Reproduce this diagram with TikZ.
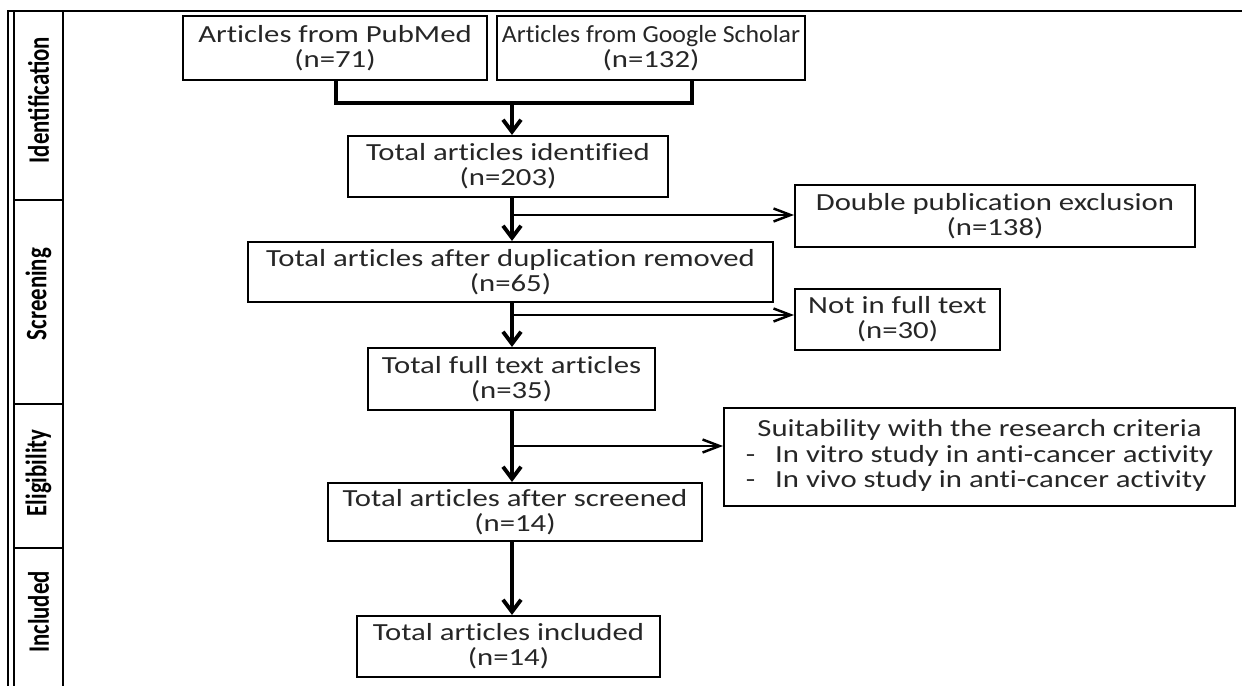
\documentclass[tikz,border=0pt]{standalone}
\usepackage{fontspec}
\setmainfont{Carlito}[FakeStretch=1.25, Ligatures=NoCommon]
\newfontfamily\stagefont{Carlito}
\usetikzlibrary{arrows.meta}
\tikzset{
  box/.style={draw, line width=1.2pt, inner sep=0pt, align=center,
    font=\fontsize{14pt}{14.4pt}\selectfont, text=black!85},
  arr/.style={line width=2.2pt, -{Straight Barb[length=2.4mm,width=3.6mm]}},
  side/.style={line width=1.4pt, -{Straight Barb[length=3.4mm,width=2.6mm]}},
  stage/.style={rotate=90, font=\stagefont\bfseries\fontsize{13pt}{13pt}\selectfont},
  frame/.style={line width=1.4pt}
}
\begin{document}
\begin{tikzpicture}[x=0.02cm,y=-0.02cm]
  \useasboundingbox (0,0) rectangle (1242,686);
  % frame and stage column
  \draw[frame] (1242,11) -- (8,11) -- (8,686);
  \draw[line width=0.9pt] (14,11) -- (14,686);
  \draw[line width=0.9pt] (63,11) -- (63,686);
  \draw[line width=0.9pt] (14,200) -- (63,200);
  \draw[line width=0.9pt] (14,404) -- (63,404);
  \draw[line width=0.9pt] (14,548) -- (63,548);
  \node[stage] (sid) at (38.5,100) {\scalebox{1}[1.3]{Identification}};
  \node[stage] (sscr) at (38.5,294) {\scalebox{1}[1.3]{Screening}};
  \node[stage] (selig) at (38.5,473) {\scalebox{1}[1.3]{Eligibility}};
  \node[stage] (sincl) at (38.5,612) {\scalebox{1}[1.3]{Included}};

  % boxes
  \node[box, minimum width=6.08cm, minimum height=1.28cm] (pubmed) at (335,48)
    {Articles from PubMed\\(n=71)};
  \node[box, minimum width=6.16cm, minimum height=1.28cm] (scholar) at (651,48)
    {\scalebox{0.84}[1]{Articles from Google Scholar}\\(n=132)};
  \node[box, minimum width=6.4cm, minimum height=1.22cm] (ident) at (508,166.5)
    {Total articles identified\\(n=203)};
  \node[box, minimum width=8cm, minimum height=1.24cm] (dupl) at (995,216)
    {Double publication exclusion\\(n=138)};
  \node[box, minimum width=10.5cm, minimum height=1.2cm] (removed) at (510.5,272)
    {Total articles after duplication removed\\(n=65)};
  \node[box, minimum width=4.1cm, minimum height=1.22cm] (notfull) at (897.5,319.5)
    {Not in full text\\(n=30)};
  \node[box, minimum width=5.74cm, minimum height=1.24cm] (fulltext) at (511.5,379)
    {Total full text articles\\(n=35)};
  \node[box, minimum width=10.22cm, minimum height=1.96cm] (suit) at (979.5,457)
    {\begin{tabular}{@{}l@{\hspace{0.4cm}}l@{}}
      \multicolumn{2}{c}{Suitability with the research criteria}\\
      - & In vitro study in anti-cancer activity\\
      - & In vivo study in anti-cancer activity
    \end{tabular}};
  \node[box, minimum width=7.48cm, minimum height=1.16cm] (screened) at (515,512)
    {Total articles after screened\\(n=14)};
  \node[box, minimum width=6.06cm, minimum height=1.22cm] (included) at (508.5,646.5)
    {Total articles included\\(n=14)};

  % join of the two sources
  \coordinate (jl) at (336,103);
  \coordinate (jr) at (692,103);
  \coordinate (jm) at (512,103);
  \draw[line width=2.2pt] (pubmed.south -| jl) -- (jl) -- (jr) -- (scholar.south -| jr);
  \draw[arr] (jm) -- (jm |- ident.north);

  % main flow
  \draw[arr] (jm |- ident.south) -- (jm |- removed.north);
  \draw[arr] (jm |- removed.south) -- (jm |- fulltext.north);
  \draw[arr] (jm |- fulltext.south) -- (jm |- screened.north);
  \draw[arr] (jm |- screened.south) -- (jm |- included.north);

  % exclusions
  \coordinate (b1) at (512,215);
  \coordinate (b2) at (512,315);
  \coordinate (b3) at (512,446);
  \draw[side] (b1) -- (b1 -| dupl.west);
  \draw[side] (b2) -- (b2 -| notfull.west);
  \draw[side] (b3) -- (b3 -| suit.west);
\end{tikzpicture}
\end{document}
